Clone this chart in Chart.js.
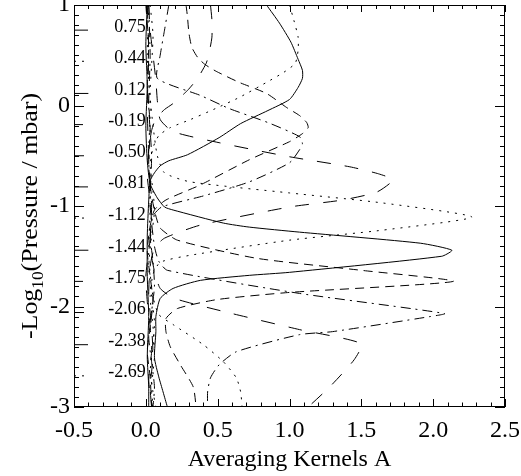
<!DOCTYPE html>
<html>
<head>
<meta charset="utf-8">
<script src="https://cdn.jsdelivr.net/npm/chart.js@4/dist/chart.umd.min.js"></script>
<style>
  html, body { margin: 0; padding: 0; background: #fff; }
  canvas { display: block; }
</style>
</head>
<body>
<canvas id="c" width="521" height="476"></canvas>
<script>
// Retrieval levels, -log10(p / mbar), and their printed labels
const kernelLevels = [0.75, 0.44, 0.12, -0.19, -0.50, -0.81, -1.12, -1.44, -1.75, -2.06, -2.38, -2.69];
const levelLabels  = ['0.75', '0.44', '0.12', '-0.19', '-0.50', '-0.81', '-1.12', '-1.44', '-1.75', '-2.06', '-2.38', '-2.69'];

// Axis ticks
const xTickValues = [-0.5, 0, 0.5, 1, 1.5, 2, 2.5];
const xTickLabels = ['-0.5', '0.0', '0.5', '1.0', '1.5', '2.0', '2.5'];
const yTickValues = [1, 0, -1, -2, -3];
const yTickLabels = ['1', '0', '-1', '-2', '-3'];

// Averaging kernel rows: [kernel value A, -log10(p / mbar)]
const akP075 = [[0.45,1.00],[0.46,0.85],[0.46,0.68],[0.44,0.52],[0.42,0.42],[0.36,0.27],[0.29,0.15],[0.19,0.02],[0.13,-0.04],[0.07,-0.13],[0.04,-0.25],[0.02,-0.45],[0.01,-0.70],[0.03,-0.95],[0.04,-1.20],[0.02,-1.45],[0.00,-1.70],[0.01,-1.95],[0.03,-2.20],[0.04,-2.45],[0.02,-2.70],[0.03,-2.90],[0.05,-3.00]];
const akP044 = [[1.00,1.00],[1.03,0.85],[1.06,0.68],[1.06,0.55],[1.04,0.42],[0.96,0.33],[0.84,0.23],[0.65,0.08],[0.47,-0.04],[0.31,-0.14],[0.17,-0.22],[0.09,-0.30],[0.05,-0.42],[0.03,-0.60],[0.05,-0.85],[0.06,-1.05],[0.04,-1.30],[0.02,-1.60],[0.04,-1.90],[0.06,-2.15],[0.05,-2.40],[0.03,-2.65],[0.05,-2.85],[0.07,-3.00]];
const akP012 = [[0.84,1.00],[0.93,0.82],[1.01,0.63],[1.06,0.46],[1.09,0.35],[1.09,0.27],[1.06,0.18],[1.00,0.06],[0.85,-0.05],[0.66,-0.18],[0.51,-0.32],[0.29,-0.49],[0.16,-0.55],[0.10,-0.60],[0.06,-0.67],[0.03,-0.75],[0.02,-0.95],[0.01,-1.30],[0.01,-1.70],[0.02,-2.10],[0.01,-2.50],[0.02,-2.80],[0.02,-3.00]];
const akM019 = [[0.28,1.00],[0.29,0.88],[0.30,0.72],[0.32,0.58],[0.36,0.48],[0.41,0.41],[0.49,0.34],[0.65,0.23],[0.84,0.12],[0.98,-0.02],[1.07,-0.10],[1.12,-0.17],[1.13,-0.22],[1.09,-0.28],[1.00,-0.36],[0.72,-0.54],[0.38,-0.79],[0.14,-0.94],[0.06,-1.04],[0.03,-1.20],[0.01,-1.45],[0.03,-1.70],[0.05,-1.95],[0.03,-2.20],[0.01,-2.45],[0.03,-2.70],[0.04,-3.00]];
const akM050 = [[0.16,1.00],[0.13,0.75],[0.10,0.50],[0.08,0.27],[0.38,0.10],[0.58,-0.03],[0.85,-0.17],[1.07,-0.31],[1.09,-0.38],[1.07,-0.44],[1.00,-0.57],[0.72,-0.76],[0.40,-0.90],[0.11,-1.01],[0.05,-1.10],[0.03,-1.30],[0.05,-1.55],[0.06,-1.80],[0.04,-2.05],[0.02,-2.30],[0.04,-2.55],[0.06,-2.80],[0.05,-3.00]];
const akM081 = [[0.02,1.00],[0.03,0.75],[0.05,0.50],[0.07,0.25],[0.08,0.05],[0.10,-0.14],[0.19,-0.26],[0.51,-0.37],[1.00,-0.51],[1.42,-0.61],[1.62,-0.68],[1.72,-0.74],[1.61,-0.86],[1.37,-0.94],[1.00,-1.01],[0.38,-1.19],[0.13,-1.32],[0.06,-1.42],[0.03,-1.60],[0.02,-1.90],[0.04,-2.20],[0.05,-2.50],[0.03,-2.80],[0.04,-3.00]];
const akM112 = [[0.03,1.00],[0.05,0.70],[0.04,0.40],[0.03,0.10],[0.05,-0.20],[0.08,-0.50],[0.13,-0.67],[0.31,-0.76],[1.00,-0.87],[1.65,-0.97],[2.27,-1.11],[1.65,-1.24],[1.00,-1.34],[0.31,-1.49],[0.10,-1.56],[0.05,-1.68],[0.03,-1.90],[0.05,-2.20],[0.06,-2.50],[0.04,-2.80],[0.05,-3.00]];
const akM144 = [[0.01,1.00],[0.00,0.60],[0.01,0.20],[0.00,-0.20],[0.01,-0.55],[0.03,-0.78],[0.08,-0.92],[0.13,-1.01],[0.19,-1.04],[0.54,-1.17],[0.72,-1.21],[1.07,-1.26],[1.91,-1.37],[2.13,-1.44],[2.06,-1.50],[1.00,-1.66],[0.72,-1.69],[0.38,-1.74],[0.19,-1.82],[0.10,-1.92],[0.07,-2.10],[0.07,-2.25],[0.06,-2.51],[0.09,-2.70],[0.12,-2.85],[0.15,-3.00]];
const akM175 = [[0.00,1.00],[0.02,0.60],[0.01,0.20],[0.03,-0.20],[0.02,-0.60],[0.04,-0.90],[0.07,-1.10],[0.10,-1.22],[0.22,-1.34],[0.77,-1.52],[1.50,-1.64],[2.14,-1.75],[1.00,-1.86],[0.50,-1.93],[0.22,-2.02],[0.14,-2.12],[0.14,-2.25],[0.17,-2.40],[0.24,-2.58],[0.33,-2.80],[0.35,-3.00]];
const akM206 = [[0.02,1.00],[0.03,0.50],[0.02,0.00],[0.04,-0.50],[0.03,-1.00],[0.06,-1.40],[0.09,-1.55],[0.15,-1.64],[1.07,-1.87],[2.08,-2.07],[1.98,-2.10],[1.30,-2.25],[1.07,-2.28],[0.63,-2.45],[0.51,-2.58],[0.45,-2.71],[0.43,-2.85],[0.43,-3.00]];
const akM238 = [[0.01,1.00],[0.02,0.50],[0.01,0.00],[0.02,-0.50],[0.04,-1.00],[0.03,-1.40],[0.06,-1.65],[0.10,-1.82],[0.20,-1.92],[0.60,-2.07],[1.07,-2.23],[1.50,-2.37],[1.45,-2.53],[1.28,-2.80],[1.13,-3.00]];
const akM269 = [[0.02,1.00],[0.01,0.50],[0.03,0.00],[0.02,-0.50],[0.03,-1.00],[0.02,-1.50],[0.05,-1.90],[0.09,-2.08],[0.19,-2.18],[0.40,-2.38],[0.54,-2.55],[0.63,-2.71],[0.66,-2.85],[0.67,-3.00]];

const kernelRows = [akP075, akP044, akP012, akM019, akM050, akM081, akM112, akM144, akM175, akM206, akM238, akM269];

// Line styles cycle through five patterns, level by level
const styleCycle = ['longdash', 'dotted', 'solid', 'dashed', 'dashdot'];
const dashPatterns = {
  solid: [],
  dotted: [2, 6],
  dashed: [9, 6],
  dashdot: [10, 5, 2, 5],
  longdash: [14, 14]
};
// Short style keys drawn at the left edge beside each level label
const keyStart = -0.5, keyEnd = -0.4;

const SERIF = '"Liberation Serif", "Times New Roman", serif';

const datasets = [];
kernelRows.forEach((rows, i) => {
  const dash = dashPatterns[styleCycle[i % styleCycle.length]];
  datasets.push({
    label: 'A ' + levelLabels[i],
    data: rows.map(([a, z]) => ({ x: a, y: z })),
    showLine: true,
    borderColor: '#000',
    borderWidth: 1,
    borderDash: dash,
    pointRadius: 0,
    tension: 0.2,
    fill: false
  });
  datasets.push({
    label: 'key ' + levelLabels[i],
    data: [{ x: keyStart, y: kernelLevels[i] }, { x: keyEnd, y: kernelLevels[i] }],
    showLine: true,
    borderColor: '#000',
    borderWidth: 1,
    borderDash: dash,
    pointRadius: 0,
    tension: 0,
    fill: false
  });
});

// Box frame with inward minor/major ticks on all four sides, plus level labels
const framePlugin = {
  id: 'frame',
  afterDatasetsDraw(chart) {
    const { ctx, chartArea: a, scales: { x, y } } = chart;
    ctx.save();
    ctx.strokeStyle = '#000';
    ctx.lineWidth = 1;
    ctx.strokeRect(a.left + 0.5, a.top + 0.5, a.right - a.left - 1, a.bottom - a.top - 1);
    ctx.beginPath();
    for (let i = -5; i <= 25; i++) {
      const px = Math.round(x.getPixelForValue(i / 10)) + 0.5;
      const major = i % 5 === 0;
      ctx.moveTo(px, a.bottom); ctx.lineTo(px, a.bottom - (major ? 8 : 4.5));
      ctx.moveTo(px, a.top); ctx.lineTo(px, a.top + (major ? 7 : 4));
    }
    for (let i = -30; i <= 10; i++) {
      const py = Math.round(y.getPixelForValue(i / 10)) + 0.5;
      const len = i % 10 === 0 ? 10 : 5;
      ctx.moveTo(a.left, py); ctx.lineTo(a.left + len, py);
      ctx.moveTo(a.right, py); ctx.lineTo(a.right - len, py);
    }
    ctx.stroke();

    ctx.fillStyle = '#000';
    ctx.font = '18px ' + SERIF;
    ctx.textAlign = 'right';
    ctx.textBaseline = 'alphabetic';
    const x0 = x.getPixelForValue(0);
    kernelLevels.forEach((lev, i) => {
      ctx.fillText(levelLabels[i], x0, y.getPixelForValue(lev) + 1.5);
    });
    ctx.restore();
  },
  afterDraw(chart) {
    // Vertical axis title with a subscript base
    const { ctx, chartArea: a } = chart;
    const main = '24px ' + SERIF, sub = '16px ' + SERIF;
    const parts = [['-Log', main, 0], ['10', sub, 6], ['(Pressure / mbar)', main, 0]];
    ctx.save();
    let total = 0;
    parts.forEach(p => { ctx.font = p[1]; total += ctx.measureText(p[0]).width; });
    ctx.translate(37, (a.top + a.bottom) / 2 + 10);
    ctx.rotate(-Math.PI / 2);
    ctx.scale(1.08, 1);
    ctx.fillStyle = '#000';
    ctx.textBaseline = 'alphabetic';
    ctx.textAlign = 'left';
    let cx = -total / 2;
    parts.forEach(p => {
      ctx.font = p[1];
      ctx.fillText(p[0], cx, p[2]);
      cx += ctx.measureText(p[0]).width;
    });
    ctx.restore();
  }
};

function noPad(s) { s.paddingTop = 0; s.paddingBottom = 0; s.paddingLeft = 0; s.paddingRight = 0; }

new Chart(document.getElementById('c'), {
  type: 'scatter',
  data: { datasets },
  options: {
    responsive: false,
    animation: false,
    devicePixelRatio: 1,
    layout: { padding: { top: 5, right: 16, left: 0, bottom: 0 } },
    plugins: { legend: { display: false }, tooltip: { enabled: false } },
    scales: {
      x: {
        type: 'linear', min: -0.5, max: 2.5,
        afterBuildTicks(s) { s.ticks = xTickValues.map(v => ({ value: v })); },
        ticks: {
          autoSkip: false, maxRotation: 0, padding: 9, color: '#000',
          font: { family: SERIF, size: 24 },
          callback: (v) => xTickLabels[xTickValues.indexOf(v)]
        },
        grid: { display: false, drawTicks: false },
        border: { display: false },
        title: { display: true, text: 'Averaging Kernels A', color: '#000',
                 font: { family: SERIF, size: 24 }, padding: { top: 0, bottom: 2 } },
        afterFit(s) { s.height = 69; noPad(s); }
      },
      y: {
        type: 'linear', min: -3, max: 1,
        afterBuildTicks(s) { s.ticks = yTickValues.map(v => ({ value: v })); },
        ticks: {
          autoSkip: false, padding: 4, color: '#000',
          font: { family: SERIF, size: 24 },
          callback: (v) => yTickLabels[yTickValues.indexOf(v)]
        },
        grid: { display: false, drawTicks: false },
        border: { display: false },
        afterFit(s) { s.width = 74; noPad(s); }
      }
    }
  },
  plugins: [framePlugin]
});
</script>
</body>
</html>
